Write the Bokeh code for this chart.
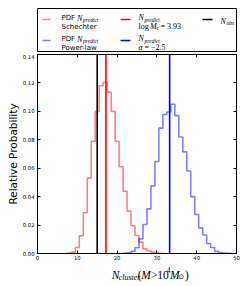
from bokeh.plotting import figure
from bokeh.models import Range1d, FixedTicker, LinearAxis, Span, PrintfTickFormatter
from bokeh.layouts import column
from bokeh.embed import file_html
from bokeh.resources import INLINE
from bokeh.core.properties import value

# ---------------- data ----------------
schechter_bins = [7, 8, 9, 10, 11, 12, 13, 14, 15, 16, 17, 18, 19, 20, 21, 22, 23, 24, 25,
                  26, 27, 28, 29, 30, 31, 32]
schechter_pdf = [0.0, 0.0003, 0.001, 0.0042, 0.0125, 0.0287, 0.053, 0.079, 0.100, 0.118,
                 0.1205, 0.1135, 0.100, 0.079, 0.061, 0.0438, 0.0298, 0.0195, 0.0127, 0.008,
                 0.0033, 0.0019, 0.001, 0.0005, 0.0002, 0.0]

powerlaw_bins = [21, 22, 23, 24, 25, 26, 27, 28, 29, 30, 31, 32, 33, 34, 35, 36, 37, 38, 39,
                 40, 41, 42, 43, 44, 45, 46, 47, 48, 49]
powerlaw_pdf = [0.0, 0.0002, 0.0005, 0.0015, 0.004, 0.0103, 0.0204, 0.0314, 0.0476, 0.0647,
                0.0882, 0.0978, 0.0995, 0.105, 0.097, 0.082, 0.0715, 0.058, 0.040, 0.0274,
                0.018, 0.013, 0.007, 0.0042, 0.0015, 0.0006, 0.0003, 0.0001, 0.0]

n_obs = 15.0
n_predict_schechter = 17.2
n_predict_powerlaw = 33.2

x_ticks = [0, 10, 20, 30, 40, 50]
y_ticks = [0.00, 0.02, 0.04, 0.06, 0.08, 0.10, 0.12, 0.14]

SANS = "DejaVu Sans"
SERIF = "Liberation Serif"
W = 241

# ---------------- main plot ----------------
p = figure(width=W, height=209, x_range=Range1d(0, 50), y_range=Range1d(0, 0.14),
           output_backend="svg", toolbar_location=None,
           min_border_left=37, min_border_right=5, min_border_top=0, min_border_bottom=10)
p.xgrid.visible = False
p.ygrid.visible = False
p.outline_line_color = "black"
p.outline_line_width = 1
p.outline_line_alpha = 1.0
p.background_fill_color = "white"
p.border_fill_color = "white"

p.step(schechter_bins, schechter_pdf, mode="center", line_color="red", line_alpha=0.5, line_width=1.6)
p.step(powerlaw_bins, powerlaw_pdf, mode="center", line_color="blue", line_alpha=0.5, line_width=1.6)

p.add_layout(Span(location=n_obs, dimension="height", line_color="black", line_width=1.6))
p.add_layout(Span(location=n_predict_schechter, dimension="height", line_color="red", line_width=1.6))
p.add_layout(Span(location=n_predict_powerlaw, dimension="height", line_color="blue", line_width=1.6))

def style_axis(ax):
    ax.major_tick_in = 3
    ax.major_tick_out = 0
    ax.minor_tick_in = 0
    ax.minor_tick_out = 0
    ax.major_tick_line_color = "black"
    ax.axis_line_color = "black"
    ax.major_label_text_font = SANS
    ax.major_label_text_font_size = "5.3px"
    ax.major_label_text_color = "black"

xa = p.xaxis[0]
xa.ticker = FixedTicker(ticks=x_ticks)
style_axis(xa)
xa.major_label_standoff = 2
xa.axis_label = None

ya = p.yaxis[0]
ya.ticker = FixedTicker(ticks=y_ticks)
ya.formatter = PrintfTickFormatter(format="%.2f")
style_axis(ya)
ya.major_label_standoff = 3
ya.axis_label = "Relative Probability"
ya.axis_label_text_font = SANS
ya.axis_label_text_font_size = "10.5px"
ya.axis_label_text_font_style = "normal"
ya.axis_label_text_color = "black"
ya.axis_label_standoff = 1

top = LinearAxis(ticker=FixedTicker(ticks=x_ticks),
                 major_label_overrides={t: "" for t in x_ticks})
style_axis(top)
top.major_label_text_font_size = "0px"
top.major_label_standoff = 0
p.add_layout(top, "above")

right = LinearAxis(ticker=FixedTicker(ticks=y_ticks),
                   major_label_overrides={t: "" for t in y_ticks})
style_axis(right)
right.major_label_text_font_size = "0px"
right.major_label_standoff = 0
p.add_layout(right, "right")

# ---------------- legend box (page-pixel coordinates) ----------------
lg = figure(width=W, height=54, x_range=Range1d(37, 236), y_range=Range1d(51, 8),
            x_axis_type=None, y_axis_type=None, output_backend="svg", toolbar_location=None,
            min_border_left=37, min_border_right=5, min_border_top=8, min_border_bottom=3)
lg.outline_line_color = "black"
lg.outline_line_width = 1
lg.outline_line_alpha = 1.0

# legend handles
lg.segment(x0=[42, 42], y0=[19, 40], x1=[50, 50], y1=[19, 40],
           line_color=["red", "blue"], line_alpha=0.5, line_width=1.6)
lg.segment(x0=[120, 120, 202], y0=[19, 40, 19], x1=[130, 130, 212], y1=[19, 40, 19],
           line_color=["red", "blue", "black"], line_width=1.6)

def txt(fig, x, y, s, size, font, style="normal"):
    fig.text(x=[x], y=[y], text=[s], text_font=value(font), text_font_size=size,
             text_font_style=style, text_baseline="alphabetic", text_align="left",
             text_color="black")

# column 1
for yb, second in [(17.5, "Schechter"), (38.8, "Power-law")]:
    txt(lg, 61, yb, "PDF", "7px", SANS)
    txt(lg, 76.5, yb, "N", "8px", SERIF, "italic")
    txt(lg, 82.5, yb + 1.8, "predict", "5.5px", SERIF, "italic")
    txt(lg, 61, yb + 8.8, second, "7px", SANS)

# column 2
for yb in [17.3, 38.3]:
    txt(lg, 138, yb, "N", "8px", SERIF, "italic")
    txt(lg, 144, yb + 1.8, "predict", "5.5px", SERIF, "italic")
txt(lg, 138, 26.0, "log", "8px", SERIF)
txt(lg, 149.5, 26.0, "M", "8px", SERIF, "italic")
txt(lg, 156, 27.6, "c", "5.5px", SERIF, "italic")
txt(lg, 160, 26.0, "= 3.93", "8px", SERIF)
txt(lg, 138, 47.0, "α", "8px", SERIF, "italic")
txt(lg, 144, 47.0, "= −2.5", "8px", SERIF)

# column 3
txt(lg, 220, 21.0, "N", "8px", SERIF, "italic")
txt(lg, 226, 22.8, "obs", "5.5px", SERIF, "italic")

# ---------------- x-axis label (page-pixel coordinates) ----------------
xl = figure(width=W, height=22, x_range=Range1d(0, W), y_range=Range1d(285, 263),
            x_axis_type=None, y_axis_type=None, output_backend="svg", toolbar_location=None,
            min_border_left=0, min_border_right=0, min_border_top=0, min_border_bottom=0)
xl.outline_line_color = None

base = 274.3
txt(xl, 90, base, "N", "11.5px", SERIF, "italic")
txt(xl, 98.3, base + 2.4, "cluster", "8px", SERIF, "italic")
txt(xl, 121.5, base, "(", "11.5px", SERIF)
txt(xl, 125.5, base, "M", "11.5px", SERIF, "italic")
txt(xl, 137.5, base, ">", "11.5px", SERIF)
txt(xl, 145, base, "10", "11.5px", SERIF)
txt(xl, 156.5, base - 5, "4", "7.5px", SERIF)
txt(xl, 160.5, base, "M", "11.5px", SERIF, "italic")
txt(xl, 170.5, base + 2.4, "⊙", "7px", SANS)
txt(xl, 178.5, base, ")", "11.5px", SERIF)

layout = column(lg, p, xl, spacing=0)
open("out.html", "w").write(file_html(layout, INLINE))
